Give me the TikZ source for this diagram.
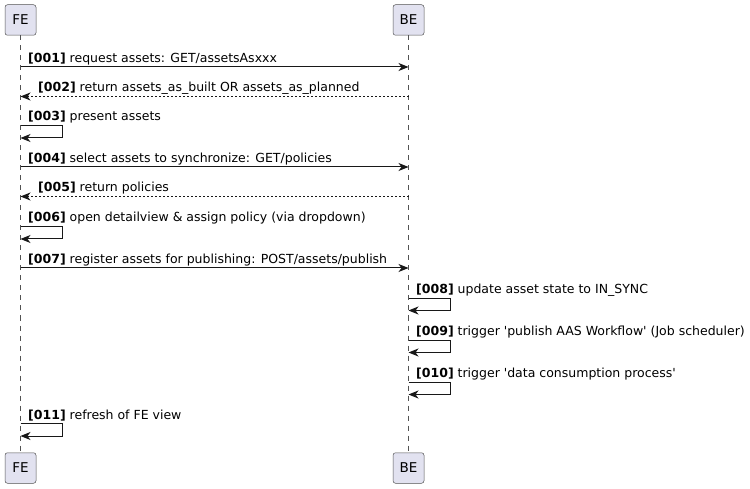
\documentclass[tikz,border=0pt]{standalone}
\usepackage{fontspec}
\setmainfont{DejaVu Sans}[Ligatures=TeXOff]
\usetikzlibrary{arrows.meta, positioning}
\definecolor{umlline}{HTML}{181818}
\definecolor{umlbox}{HTML}{E2E2F0}
\tikzset{
x=1pt, y=-1pt, % one unit is one pixel, y runs downwards
participant/.style={draw=umlline!75, line width=0.5pt, fill=umlbox, rounded corners=2.5pt,
  minimum width=31pt, minimum height=30.5pt, inner sep=0pt, font=\fontsize{13.5}{16}\selectfont},
lifeline/.style={draw=umlline!75, line width=0.5pt, dash pattern=on 5pt off 5pt},
msg/.style={draw=umlline, line width=1pt, -{Stealth[length=10pt, width=8pt, inset=3pt]}},
ret/.style={msg, dash pattern=on 2pt off 2pt},
lbl/.style={anchor=base west, inner sep=0pt, font=\fontsize{12.5}{15}\selectfont},
}

\begin{document}
\begin{tikzpicture}
\useasboundingbox (0,0) rectangle (750,489);

      \node[participant] (feTop) at (20.5,20) {FE};
      \node[participant] (beTop) at (408.5,20) {BE};
      \node[participant] (feBot) at (20.5,468) {FE};
      \node[participant] (beBot) at (408.5,468) {BE};

      \draw[lifeline] (feTop) -- (feBot);
      \draw[lifeline] (beTop) -- (beBot);

      % rows of the messages
      \coordinate (m1) at (0,67);
      \coordinate (m2) at (0,96.5);
      \coordinate (m3) at (0,125.5);
      \coordinate (m4) at (0,167);
      \coordinate (m5) at (0,196.5);
      \coordinate (m6) at (0,226.5);
      \coordinate (m7) at (0,268);
      \coordinate (m8) at (0,298);
      \coordinate (m9) at (0,340);
      \coordinate (m10) at (0,382);
      \coordinate (m11) at (0,423.5);

      \node[lbl] (t1) at (28,62.5) {\textbf{[001]} request assets: GET/assetsAsxxx};
      \node[lbl] (t2) at (38,92) {\textbf{[002]} return assets\_as\_built OR assets\_as\_planned};
      \node[lbl] (t3) at (28,121) {\textbf{[003]} present assets};
      \node[lbl] (t4) at (28,162.5) {\textbf{[004]} select assets to synchronize: GET/policies};
      \node[lbl] (t5) at (38,192) {\textbf{[005]} return policies};
      \node[lbl] (t6) at (28,222) {\textbf{[006]} open detailview \& assign policy (via dropdown)};
      \node[lbl] (t7) at (28,263.5) {\textbf{[007]} register assets for publishing: POST/assets/publish};
      \node[lbl] (t8) at (416,293.5) {\textbf{[008]} update asset state to IN\_SYNC};
      \node[lbl] (t9) at (416,335.5) {\textbf{[009]} trigger 'publish AAS Workflow' (Job scheduler)};
      \node[lbl] (t10) at (416,377.5) {\textbf{[010]} trigger 'data consumption process'};
      \node[lbl] (t11) at (28,419) {\textbf{[011]} refresh of FE view};

      \draw[msg] (feTop |- m1) -- (beTop |- m1);
      \draw[ret] (beTop |- m2) -- (feTop |- m2);
      \draw[msg] (feTop |- m3) -- ++(42,0) -- ++(0,12.5) -- ++(-42,0);
      \draw[msg] (feTop |- m4) -- (beTop |- m4);
      \draw[ret] (beTop |- m5) -- (feTop |- m5);
      \draw[msg] (feTop |- m6) -- ++(42,0) -- ++(0,12.5) -- ++(-42,0);
      \draw[msg] (feTop |- m7) -- (beTop |- m7);
      \draw[msg] (beTop |- m8) -- ++(42,0) -- ++(0,12.5) -- ++(-42,0);
      \draw[msg] (beTop |- m9) -- ++(42,0) -- ++(0,12.5) -- ++(-42,0);
      \draw[msg] (beTop |- m10) -- ++(42,0) -- ++(0,12.5) -- ++(-42,0);
      \draw[msg] (feTop |- m11) -- ++(42,0) -- ++(0,12.5) -- ++(-42,0);
\end{tikzpicture}
\end{document}
